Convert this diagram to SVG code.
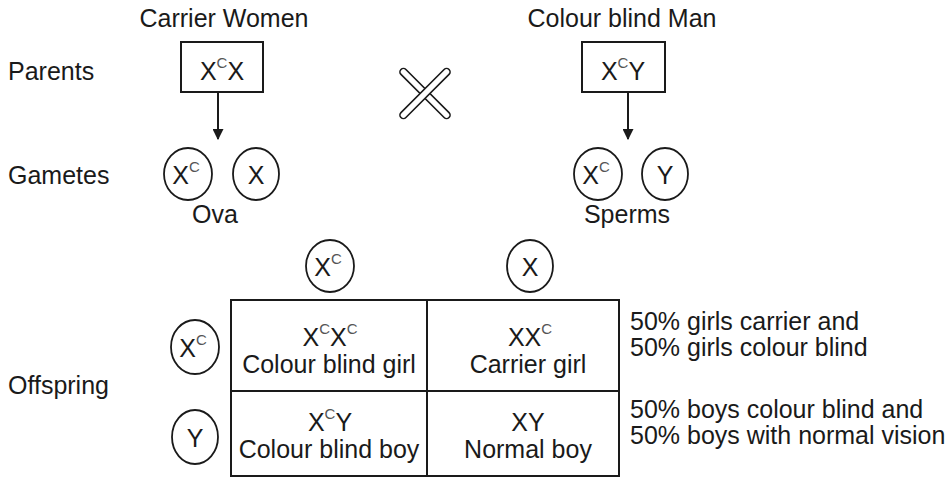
<svg xmlns="http://www.w3.org/2000/svg" width="950" height="477" viewBox="0 0 950 477">
  <style>
    text { font-family: "Liberation Sans", Arial, sans-serif; font-size: 25px; fill: #1a1a1a; }
    .mid { text-anchor: middle; }
    .sup { font-size: 15px; fill: #555; }
    .box { fill: none; stroke: #1a1a1a; stroke-width: 2; }
    .gam { fill: none; stroke: #1a1a1a; stroke-width: 1.8; }
    .grid { fill: none; stroke: #1a1a1a; stroke-width: 2; }
    .conn { stroke: #1a1a1a; stroke-width: 2; fill: none; }
  </style>
  <defs>
    <marker id="arrow" viewBox="0 0 10 10" refX="9" refY="5" markerWidth="5.5" markerHeight="5.5" orient="auto">
      <path d="M0,0 L10,5 L0,10 z" fill="#1a1a1a"/>
    </marker>
  </defs>

  <!-- row labels -->
  <g id="labels">
    <text x="8" y="80">Parents</text>
    <text x="8" y="184">Gametes</text>
    <text x="8" y="394">Offspring</text>
  </g>

  <!-- mother -->
  <g id="mother">
    <text class="mid" x="224" y="27">Carrier Women</text>
    <rect class="box" x="181" y="42" width="82" height="50"/>
    <text class="mid" x="222" y="80">X<tspan class="sup" dy="-12">C</tspan><tspan dy="12">X</tspan></text>
  </g>

  <!-- father -->
  <g id="father">
    <text class="mid" x="622" y="27">Colour blind Man</text>
    <rect class="box" x="582" y="42" width="83" height="50"/>
    <text class="mid" x="623" y="80">X<tspan class="sup" dy="-12">C</tspan><tspan dy="12">Y</tspan></text>
  </g>

  <!-- cross symbol -->
  <g id="cross" fill="#fff" stroke="#1a1a1a" stroke-width="1.6">
    <rect x="391" y="90" width="68" height="7" rx="3.5" transform="rotate(45 425 93.5)"/>
    <rect x="391" y="90" width="68" height="7" rx="3.5" transform="rotate(-45 425 93.5)"/>
  </g>

  <!-- connectors -->
  <g id="connectors">
    <line class="conn" x1="218" y1="92" x2="218" y2="139" marker-end="url(#arrow)"/>
    <line class="conn" x1="628" y1="92" x2="628" y2="139" marker-end="url(#arrow)"/>
  </g>

  <!-- ova -->
  <g id="ova">
    <ellipse class="gam" cx="188" cy="174" rx="24" ry="26"/>
    <text class="mid" x="186" y="184">X<tspan class="sup" dy="-12">C</tspan></text>
    <ellipse class="gam" cx="256" cy="174" rx="23" ry="26"/>
    <text class="mid" x="256" y="184">X</text>
    <text class="mid" x="215" y="223">Ova</text>
  </g>

  <!-- sperms -->
  <g id="sperms">
    <ellipse class="gam" cx="598" cy="174" rx="24" ry="26"/>
    <text class="mid" x="596" y="184">X<tspan class="sup" dy="-12">C</tspan></text>
    <ellipse class="gam" cx="665" cy="174" rx="23" ry="26"/>
    <text class="mid" x="665" y="184">Y</text>
    <text class="mid" x="627" y="223">Sperms</text>
  </g>

  <!-- punnett headers -->
  <g id="header-xc">
    <ellipse class="gam" cx="330" cy="266" rx="24" ry="26"/>
    <text class="mid" x="328" y="276">X<tspan class="sup" dy="-12">C</tspan></text>
  </g>
  <g id="header-x">
    <ellipse class="gam" cx="530" cy="266" rx="23" ry="26"/>
    <text class="mid" x="530" y="276">X</text>
  </g>
  <g id="row-xc">
    <ellipse class="gam" cx="195" cy="347" rx="24" ry="27"/>
    <text class="mid" x="193" y="357">X<tspan class="sup" dy="-12">C</tspan></text>
  </g>
  <g id="row-y">
    <ellipse class="gam" cx="195" cy="437" rx="23" ry="27"/>
    <text class="mid" x="195" y="447">Y</text>
  </g>

  <!-- punnett grid -->
  <g id="grid">
    <rect class="grid" x="231" y="300" width="388" height="176"/>
    <line class="grid" x1="427" y1="300" x2="427" y2="476"/>
    <line class="grid" x1="231" y1="391" x2="619" y2="391"/>
  </g>

  <g id="cell-xcxc">
    <text class="mid" x="330" y="346">X<tspan class="sup" dy="-12">C</tspan><tspan dy="12">X</tspan><tspan class="sup" dy="-12">C</tspan></text>
    <text class="mid" x="329" y="373">Colour blind girl</text>
  </g>
  <g id="cell-xxc">
    <text class="mid" x="530" y="346">XX<tspan class="sup" dy="-12">C</tspan></text>
    <text class="mid" x="528" y="373">Carrier girl</text>
  </g>
  <g id="cell-xcy">
    <text class="mid" x="330" y="431">X<tspan class="sup" dy="-12">C</tspan><tspan dy="12">Y</tspan></text>
    <text class="mid" x="329" y="458">Colour blind boy</text>
  </g>
  <g id="cell-xy">
    <text class="mid" x="528" y="431">XY</text>
    <text class="mid" x="528" y="458">Normal boy</text>
  </g>

  <!-- summary notes -->
  <g id="notes">
    <text x="630" y="330">50% girls carrier and</text>
    <text x="630" y="356">50% girls colour blind</text>
    <text x="630" y="418">50% boys colour blind and</text>
    <text x="630" y="444">50% boys with normal vision</text>
  </g>
</svg>
